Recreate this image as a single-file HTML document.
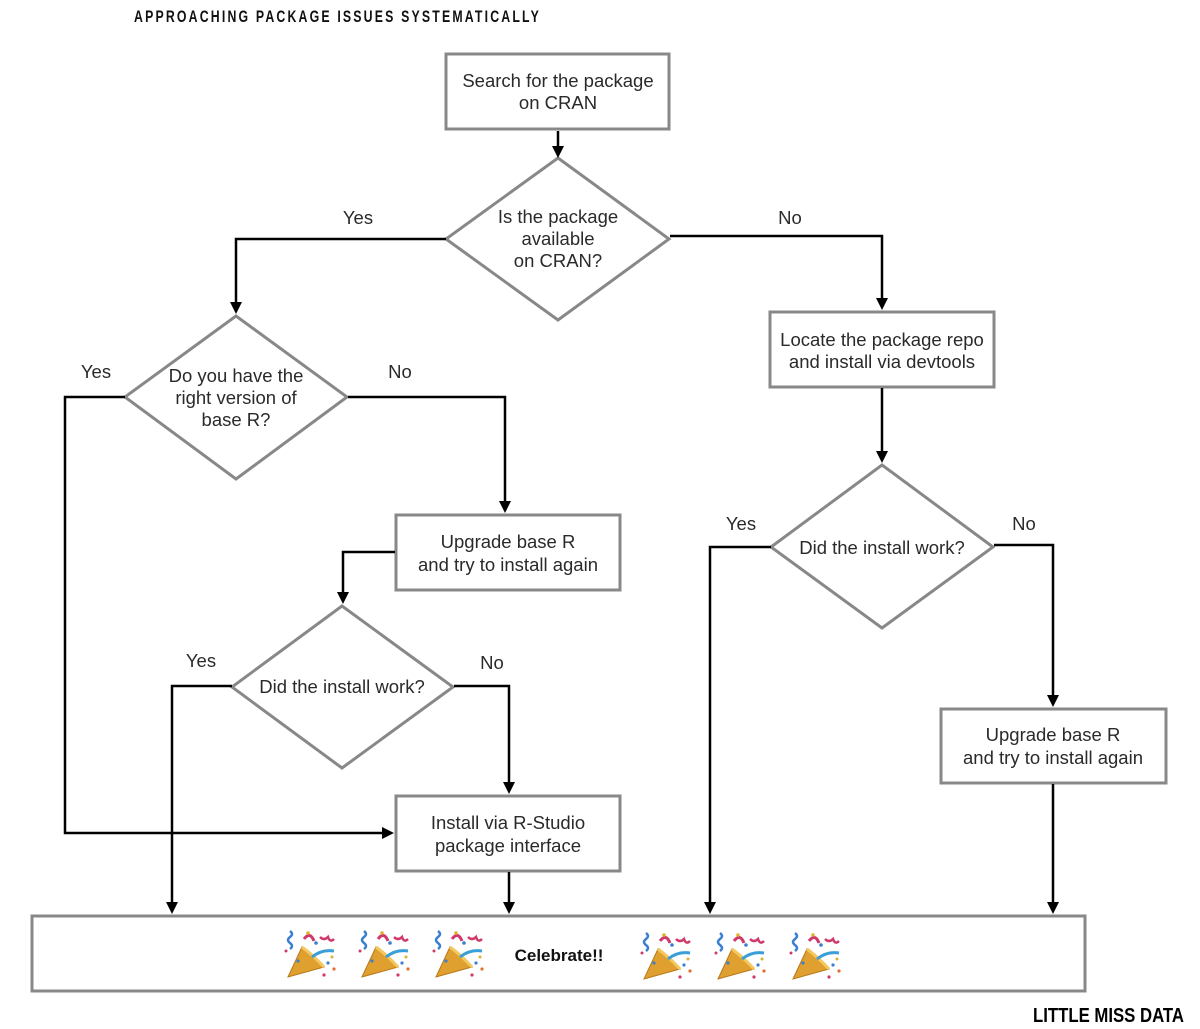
<!DOCTYPE html>
<html><head><meta charset="utf-8"><style>
html,body{margin:0;padding:0;background:#fff;}
svg{display:block;}
text{font-family:"Liberation Sans",sans-serif;fill:#2a2a2a;}
</style></head><body>
<svg width="1200" height="1029" viewBox="0 0 1200 1029" xmlns="http://www.w3.org/2000/svg">
<defs>
<g id="pop">
<path d="M-22,24 L-8,-6 L14,14 Z" fill="#e0a030" stroke="#b87818" stroke-width="1"/>
<path d="M-8,-6 Q3,2 14,14" fill="none" stroke="#f4c860" stroke-width="3"/>
<path d="M-20,-22 q4,3 0,6 q-4,3 0,6 q4,3 0,6" fill="none" stroke="#3a7fd0" stroke-width="2.5"/>
<path d="M-6,-14 q6,-8 10,2" fill="none" stroke="#d03a6a" stroke-width="3"/>
<path d="M10,-16 q4,4 8,0 q2,6 6,2" fill="none" stroke="#d03a6a" stroke-width="2.5"/>
<path d="M2,4 q10,-8 22,-6" fill="none" stroke="#3a9fd8" stroke-width="3"/>
<circle cx="-2" cy="-20" r="1.8" fill="#e0b030"/><circle cx="6" cy="-10" r="1.8" fill="#3a7fd0"/>
<circle cx="-24" cy="-2" r="1.5" fill="#d03a6a"/><circle cx="18" cy="10" r="1.6" fill="#3a7fd0"/>
<circle cx="24" cy="16" r="1.6" fill="#e07030"/><circle cx="14" cy="22" r="1.6" fill="#d03a6a"/>
<circle cx="-12" cy="8" r="1.6" fill="#3a7fd0"/><circle cx="22" cy="4" r="1.5" fill="#e0b030"/>
</g>
</defs>
<text x="134" y="22" font-size="17" font-weight="bold" textLength="407" lengthAdjust="spacingAndGlyphs" style="fill:#111;letter-spacing:3px">APPROACHING PACKAGE ISSUES SYSTEMATICALLY</text>

<g fill="#fff" stroke="#888" stroke-width="3">
<rect x="446" y="54" width="223" height="75"/>
<polygon points="558,158 669,239 558,320 446,239"/>
<polygon points="236,316 347,397 236,479 125,397"/>
<rect x="770" y="312" width="224" height="75"/>
<rect x="396" y="515" width="224" height="75"/>
<polygon points="882,465 993,547 882,628 771,547"/>
<polygon points="342,606 453,687 342,768 232,687"/>
<rect x="941" y="709" width="225" height="74"/>
<rect x="396" y="796" width="224" height="75"/>
<rect x="32" y="916" width="1053" height="75"/>
</g>

<g fill="none" stroke="#000" stroke-width="2.5">
<path d="M558,131 V148"/>
<path d="M446,239 H236 V304"/>
<path d="M670,236 H882 V300"/>
<path d="M125,397 H65 V833 H384"/>
<path d="M348,397 H505 V503"/>
<path d="M395,552 H343 V594"/>
<path d="M232,686 H172 V904"/>
<path d="M454,686 H509 V784"/>
<path d="M509,872 V904"/>
<path d="M882,388 V453"/>
<path d="M771,547 H710 V904"/>
<path d="M994,545 H1053 V697"/>
<path d="M1053,784 V904"/>
</g>
<g fill="#000">
<polygon points="552,146 564,146 558,158"/>
<polygon points="230,302 242,302 236,314"/>
<polygon points="876,298 888,298 882,310"/>
<polygon points="382,827 382,839 394,833"/>
<polygon points="499,501 511,501 505,513"/>
<polygon points="337,592 349,592 343,604"/>
<polygon points="166,902 178,902 172,914"/>
<polygon points="503,782 515,782 509,794"/>
<polygon points="503,902 515,902 509,914"/>
<polygon points="876,451 888,451 882,463"/>
<polygon points="704,902 716,902 710,914"/>
<polygon points="1047,695 1059,695 1053,707"/>
<polygon points="1047,902 1059,902 1053,914"/>
</g>

<g font-size="18.5" text-anchor="middle">
<text x="558" y="87">Search for the package</text>
<text x="558" y="109">on CRAN</text>
<text x="558" y="223">Is the package</text>
<text x="558" y="245">available</text>
<text x="558" y="267">on CRAN?</text>
<text x="236" y="382">Do you have the</text>
<text x="236" y="404">right version of</text>
<text x="236" y="426">base R?</text>
<text x="882" y="346">Locate the package repo</text>
<text x="882" y="368">and install via devtools</text>
<text x="508" y="548">Upgrade base R</text>
<text x="508" y="571">and try to install again</text>
<text x="882" y="554">Did the install work?</text>
<text x="342" y="693">Did the install work?</text>
<text x="1053" y="741">Upgrade base R</text>
<text x="1053" y="764">and try to install again</text>
<text x="508" y="829">Install via R-Studio</text>
<text x="508" y="852">package interface</text>
<text x="358" y="224">Yes</text>
<text x="790" y="224">No</text>
<text x="96" y="378">Yes</text>
<text x="400" y="378">No</text>
<text x="201" y="667">Yes</text>
<text x="492" y="669">No</text>
<text x="741" y="530">Yes</text>
<text x="1024" y="530">No</text>
<text x="559" y="961" font-size="17" font-weight="bold" style="fill:#111">Celebrate!!</text>
</g>

<use href="#pop" x="310" y="953"/>
<use href="#pop" x="384" y="953"/>
<use href="#pop" x="458" y="953"/>
<use href="#pop" x="666" y="955"/>
<use href="#pop" x="740" y="955"/>
<use href="#pop" x="815" y="955"/>

<text x="1033" y="1022" font-size="20" font-weight="bold" textLength="151" lengthAdjust="spacingAndGlyphs" style="fill:#000">LITTLE MISS DATA</text>
</svg>
</body></html>
